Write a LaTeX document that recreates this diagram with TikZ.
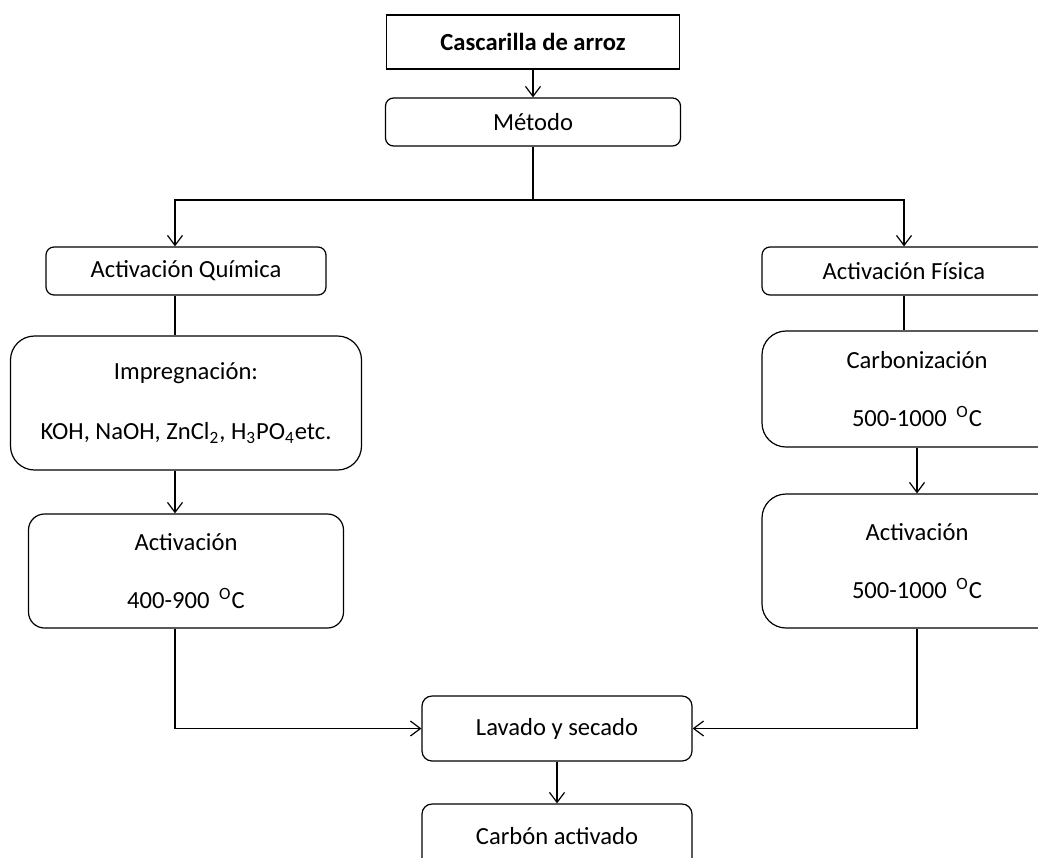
\documentclass[tikz,border=0pt]{standalone}
\usepackage{fontspec}
\setmainfont{Carlito}
\usetikzlibrary{arrows.meta}

\begin{document}
\begin{tikzpicture}[x=0.5pt,y=-0.5pt,
        box/.style={draw, line width=0.6pt, rounded corners=4pt, align=center, inner sep=0pt, font=\fontsize{12.3}{14}\selectfont},
        arr/.style={-{Straight Barb[length=5pt,width=7.5pt]}, line width=0.6pt},
        ln/.style={line width=0.6pt}]
        \useasboundingbox (0,0) rectangle (1038,857);
        \clip (0,0) rectangle (1038,857);
        \node[box, rounded corners=0pt, minimum width=146.5pt, minimum height=27pt, font=\fontsize{12.3}{14}\selectfont\bfseries] (casc) at (533,42) {Cascarilla de arroz};
        \node[box, minimum width=147.5pt, minimum height=24pt] (metodo) at (533,122) {Método};
        \node[box, minimum width=140pt, minimum height=24pt] (quim) at (186,271) {Activación Química};
        \node[box, minimum width=142pt, minimum height=24pt] (fis) at (904,271) {Activación Física};
        \node[box, rounded corners=12pt, minimum width=175.5pt, minimum height=67pt] (impreg) at (186,403) {Impregnación:\\[16pt]KOH, NaOH, ZnCl\textsubscript{2}, H\textsubscript{3}PO\textsubscript{4}etc.};
        \node[box, rounded corners=8pt, minimum width=157.5pt, minimum height=57pt] (actq) at (186,571) {Activación\\[15pt]400-900 \,\textsuperscript{O}C};
        \node[box, rounded corners=12pt, minimum width=155pt, minimum height=58pt] (carb) at (917,389) {Carbonización\\[15pt]500-1000 \,\textsuperscript{O}C};
        \node[box, rounded corners=12pt, minimum width=155pt, minimum height=67pt] (actf) at (917,561) {Activación\\[15pt]500-1000 \,\textsuperscript{O}C};
        \node[box, rounded corners=5pt, minimum width=135pt, minimum height=32.5pt] (lavado) at (557,728.5) {Lavado y secado};
        \node[box, rounded corners=5pt, minimum width=135pt, minimum height=32.5pt] (carbon) at (557,836.5) {Carbón activado};
        \coordinate (split) at (533,200);
        \draw[arr] (casc) -- (metodo);
        \draw[ln] (metodo) -- (split);
        \draw[arr] (split) -| ([xshift=-5.5pt]quim.north);
        \draw[arr] (split) -| (fis.north);
        \draw[ln] ([xshift=-5.5pt]quim.south) -- ([xshift=-5.5pt]impreg.north);
        \draw[arr] ([xshift=-5.5pt]impreg.south) -- ([xshift=-5.5pt]actq.north);
        \draw[arr] ([xshift=-5.5pt]actq.south) |- (lavado.west);
        \draw[ln] (fis.south) -- (fis.south |- carb.north);
        \draw[arr] (carb) -- (actf);
        \draw[arr] (actf.south) |- (lavado.east);
        \draw[arr] (lavado) -- (carbon);
    \end{tikzpicture}
\end{document}
